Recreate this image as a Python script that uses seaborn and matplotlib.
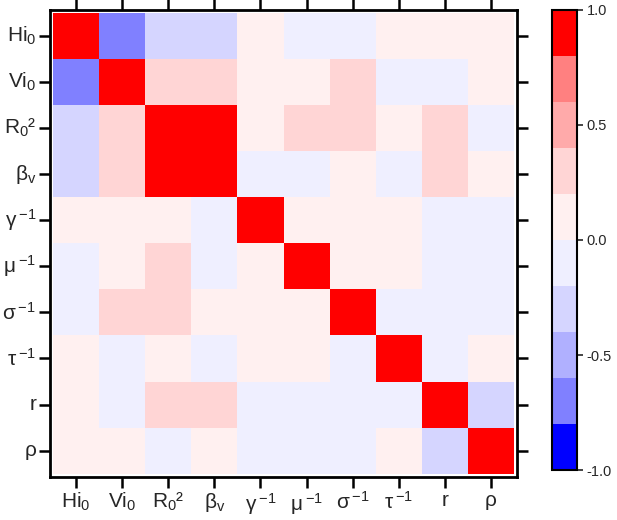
import numpy as np
import pandas as pd
import seaborn as sns
import matplotlib.pyplot as plt
from matplotlib.colors import ListedColormap

labels = [r'Hi$_0$', r'Vi$_0$', r'R$_0$²', r'β$_\mathrm{v}$', r'γ$\,^{-1}$',
          r'μ$\,^{-1}$', r'σ$\,^{-1}$', r'τ$\,^{-1}$', 'r', 'ρ']

# correlation matrix (rows top to bottom, columns left to right)
corr_values = [
    [1.00, -0.70, -0.30, -0.30, 0.05, -0.05, -0.05, 0.05, 0.05, 0.05],
    [-0.70, 1.00, 0.25, 0.25, 0.05, 0.05, 0.25, -0.05, -0.05, 0.05],
    [-0.30, 0.25, 1.00, 0.95, 0.05, 0.25, 0.25, 0.05, 0.25, -0.05],
    [-0.30, 0.25, 0.95, 1.00, -0.05, -0.05, 0.05, -0.05, 0.25, 0.05],
    [0.05, 0.05, 0.05, -0.05, 1.00, 0.05, 0.05, 0.05, -0.05, -0.05],
    [-0.05, 0.05, 0.25, -0.05, 0.05, 1.00, 0.05, 0.05, -0.05, -0.05],
    [-0.05, 0.25, 0.25, 0.05, 0.05, 0.05, 1.00, -0.05, -0.05, -0.05],
    [0.05, -0.05, 0.05, -0.05, 0.05, 0.05, -0.05, 1.00, -0.05, 0.05],
    [0.05, -0.05, 0.25, 0.25, -0.05, -0.05, -0.05, -0.05, 1.00, -0.30],
    [0.05, 0.05, -0.05, 0.05, -0.05, -0.05, -0.05, 0.05, -0.30, 1.00],
]

cbar_ticks = [-1.0, -0.5, 0.0, 0.5, 1.0]
bin_colors = ['#0000ff', '#8080ff', '#b0b0ff', '#d5d5ff', '#efefff',
              '#fff0f0', '#ffd5d5', '#ffaaaa', '#ff8080', '#ff0000']

sns.set_style('white')
plt.rcParams['font.family'] = ['Liberation Sans', 'DejaVu Sans']
plt.rcParams['mathtext.fontset'] = 'custom'
plt.rcParams['mathtext.rm'] = 'Liberation Sans'
plt.rcParams['mathtext.it'] = 'Liberation Sans'

df = pd.DataFrame(corr_values, index=labels, columns=labels)

fig = plt.figure(figsize=(6.17, 5.2), dpi=100)
ax = fig.add_axes([0.081, 0.083, 0.757, 0.898])
cax = fig.add_axes([0.895, 0.096, 0.040, 0.885])

sns.heatmap(df, cmap=ListedColormap(bin_colors), vmin=-1, vmax=1,
            ax=ax, cbar_ax=cax, square=False,
            cbar_kws={'ticks': cbar_ticks})

m = 0.07
ax.set_xlim(-m, 10 + m)
ax.set_ylim(10 + m, -m)
for s in ax.spines.values():
    s.set_visible(True)
    s.set_linewidth(2)
    s.set_color('black')
ax.tick_params(axis='both', which='both', direction='out', length=8, width=1.8,
               color='black', labelsize=15, top=True, right=True,
               labeltop=False, labelright=False, bottom=True, left=True, pad=2)
ax.set_xticklabels(labels, rotation=0)
ax.set_yticklabels(labels, rotation=0)
ax.set_xlabel('')
ax.set_ylabel('')

cbar = ax.collections[0].colorbar
cbar.outline.set_visible(True)
cbar.outline.set_edgecolor('black')
cbar.outline.set_linewidth(1.5)
cbar.set_ticks(cbar_ticks)
cbar.set_ticklabels(['-1.0', '-0.5', '0.0', '0.5', '1.0'])
cax.tick_params(direction='out', length=4, width=1.2, labelsize=10.5, pad=3)

plt.savefig('out.png', dpi=100)
